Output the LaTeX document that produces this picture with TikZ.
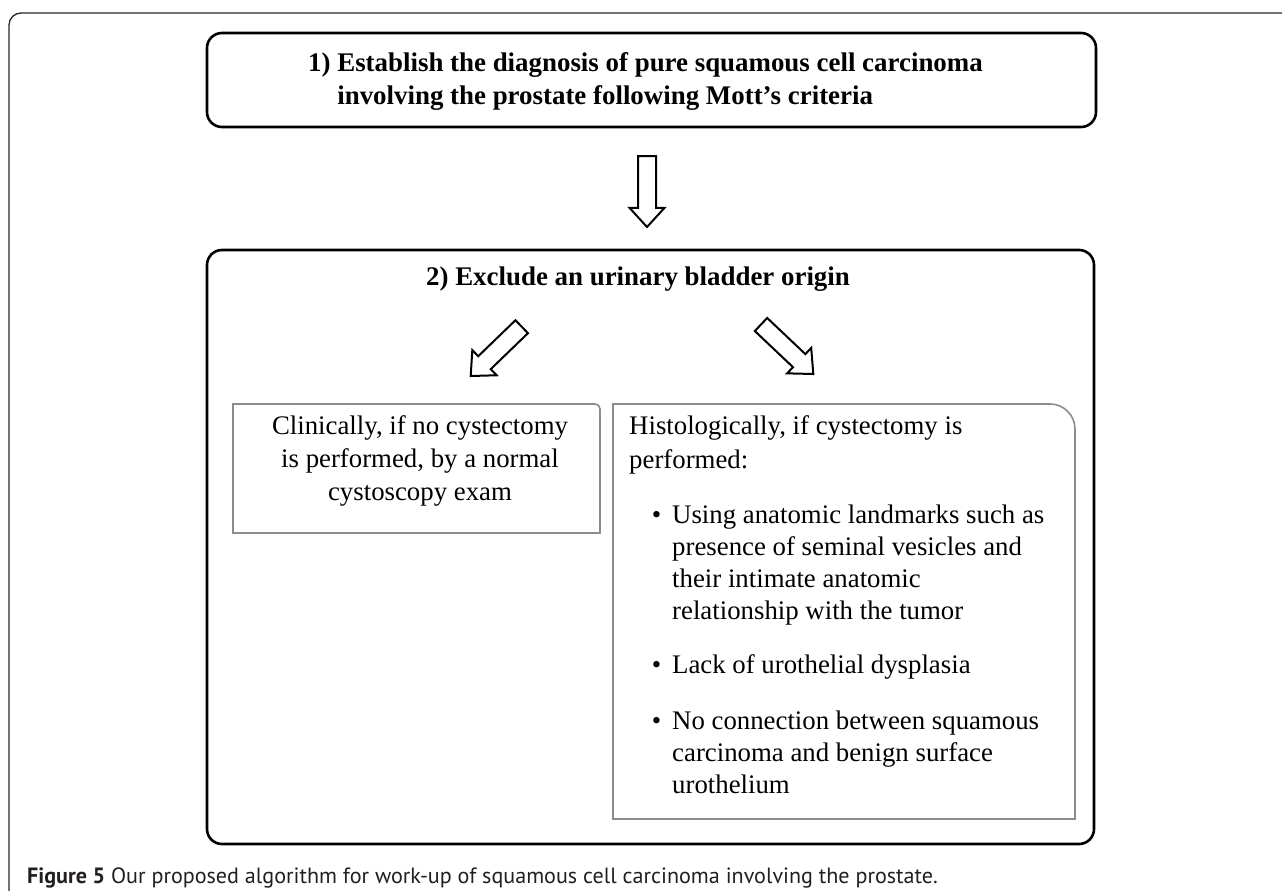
\documentclass[tikz,border=0pt]{standalone}
\usepackage{fontspec}
\setmainfont{Liberation Serif}
\newfontfamily\capfont{PT Sans}
\usetikzlibrary{calc}
\definecolor{boxgray}{HTML}{8C8C8C}
\definecolor{capblack}{HTML}{231F20}
\tikzset{
  bigbox/.style={draw=black, line width=2.6pt, rounded corners=15pt},
  smallbox/.style={draw=boxgray, line width=1.6pt},
  hollowstyle/.style={draw=black, line width=2pt, fill=white, line join=miter},
  boldtxt/.style={font=\bfseries\fontsize{26.9}{33}\selectfont, inner sep=0pt},
  bodytxt/.style={font=\fontsize{26.8}{33}\selectfont, inner sep=0pt},
  listtxt/.style={font=\fontsize{26.8}{32}\selectfont, inner sep=0pt, align=left, anchor=base west},
}
\newcommand\hollowarr[2]{%
  \coordinate (hb) at ($(#1)!0.73!(#2)$);
  \draw[hollowstyle] ($(#1)!9pt!90:(#2)$) -- ($(hb)!9pt!90:(#2)$) -- ($(hb)!17.5pt!90:(#2)$)
    -- (#2) -- ($(hb)!17.5pt!-90:(#2)$) -- ($(hb)!9pt!-90:(#2)$) -- ($(#1)!9pt!-90:(#2)$) -- cycle;
}
\begin{document}
\begin{tikzpicture}[x=1pt,y=-1pt]
\useasboundingbox (0,0) rectangle (1282,891);
\clip (0,0) rectangle (1282,891);
% outer frame
\draw[line width=1.3pt, black!85, rounded corners=12pt] (9,900) |- (1300,13);
% box 1
\node[bigbox, minimum width=889pt, minimum height=94pt] (b1) at (651.5,80) {};
\node[boldtxt, align=left, anchor=base west] (t1) at (308,104)
  {1)~Establish the diagnosis of pure squamous cell carcinoma\\\hphantom{1)~}involving the prostate following Mott’s criteria};
% down arrow
\coordinate (d1) at (647,156);
\coordinate (d2) at (647,227);
\hollowarr{d1}{d2}
% box 2
\node[bigbox, minimum width=887pt, minimum height=594pt] (b2) at (650.5,547) {};
\node[boldtxt, anchor=base] (t2) at (638,285) {2) Exclude an urinary bladder origin};
% diagonal arrows
\coordinate (l1) at (521.7,326.7);
\coordinate (l2) at (470.7,376);
\hollowarr{l1}{l2}
\coordinate (r1) at (761,324.5);
\coordinate (r2) at (813.3,374);
\hollowarr{r1}{r2}
% left box
\draw[smallbox] (233,533) -- (233,404) -- (595,404) arc[start angle=270, end angle=360, radius=5] -- (600,533) -- cycle;
\node[bodytxt, align=center, anchor=base] (lt) at (420,500)
  {Clinically, if no cystectomy\\is performed, by a normal\\cystoscopy exam};
% right box
\draw[smallbox] (613,819) -- (613,404) -- (1050,404) arc[start angle=270, end angle=360, radius=25] -- (1075,819) -- cycle;
\node[font=\fontsize{26.8}{34}\selectfont, inner sep=0pt, align=left, anchor=base west] (rt) at (629,468)
  {Histologically, if cystectomy is\\performed:};
\node[listtxt] (i1) at (672,619)
  {\llap{\textbullet\hskip 11pt}Using anatomic landmarks such as\\presence of seminal vesicles and\\their intimate anatomic\\relationship with the tumor};
\node[listtxt] (i2) at (672,673)
  {\llap{\textbullet\hskip 11pt}Lack of urothelial dysplasia};
\node[listtxt] (i3) at (672,793)
  {\llap{\textbullet\hskip 11pt}No connection between squamous\\carcinoma and benign surface\\urothelium};
% caption
\node[font=\capfont\fontsize{22.1}{24}\selectfont, text=capblack, inner sep=0pt, anchor=base west] (cap) at (27,883)
  {\textbf{Figure 5} Our proposed algorithm for work-up of squamous cell carcinoma involving the prostate.};
\end{tikzpicture}
\end{document}
